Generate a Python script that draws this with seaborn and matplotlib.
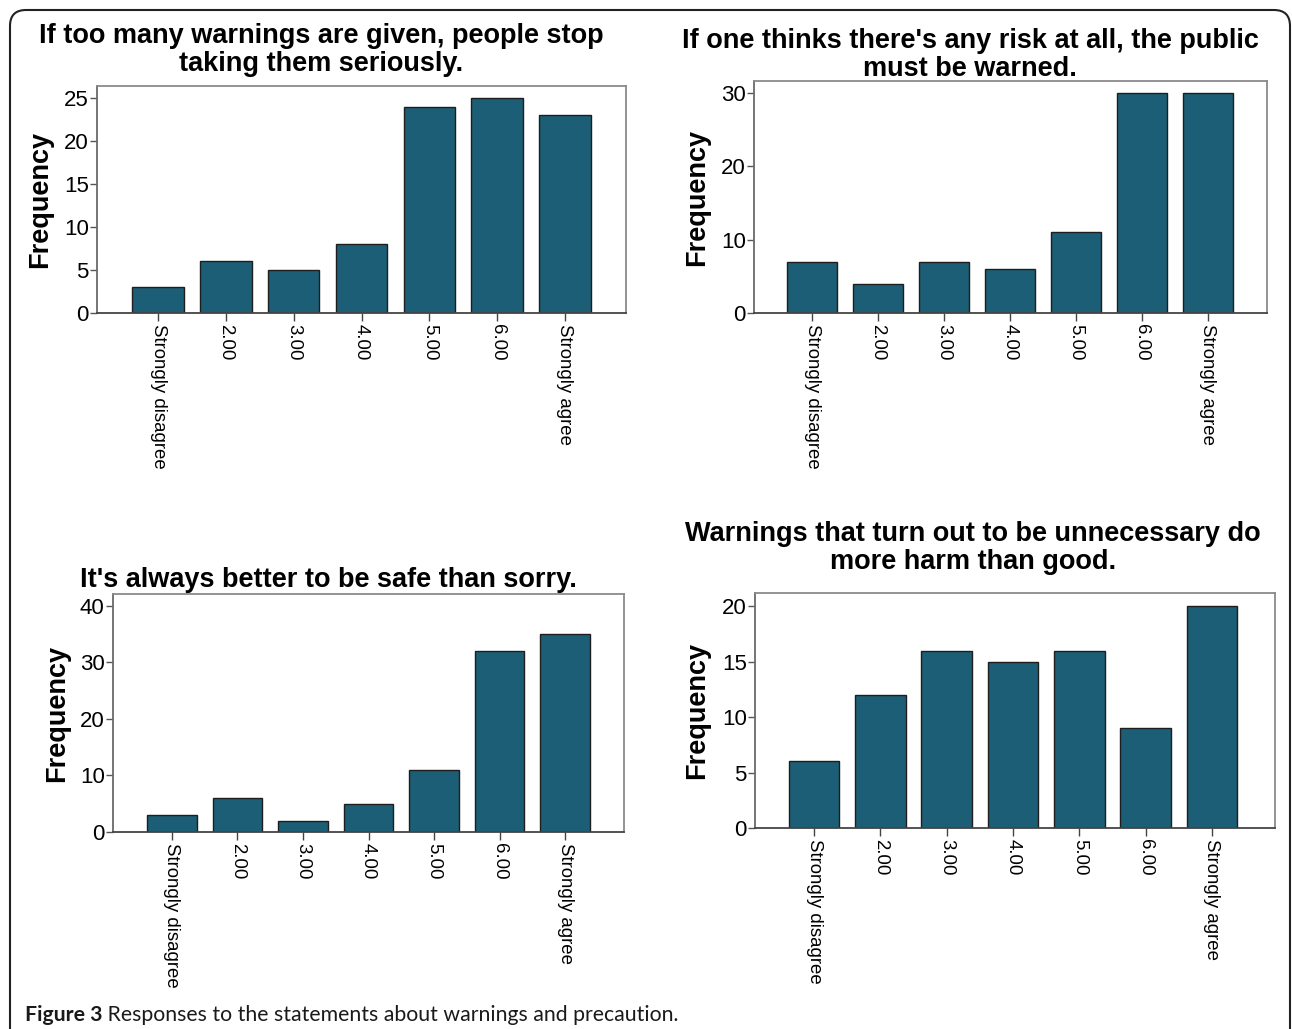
import numpy as np
import pandas as pd
import seaborn as sns
import matplotlib.pyplot as plt
from matplotlib.patches import FancyBboxPatch
from matplotlib.text import Annotation

# data
categories = ["Strongly disagree", "2.00", "3.00", "4.00", "5.00", "6.00", "Strongly agree"]
too_many_warnings = [3, 6, 5, 8, 24, 25, 23]
any_risk = [7, 4, 7, 6, 11, 30, 30]
better_safe = [3, 6, 2, 5, 11, 32, 35]
unnecessary_harm = [6, 12, 16, 15, 16, 9, 20]

titles = [
    "If too many warnings are given, people stop\ntaking them seriously.",
    "If one thinks there's any risk at all, the public\nmust be warned.",
    "It's always better to be safe than sorry.",
    "Warnings that turn out to be unnecessary do\nmore harm than good.",
]
yticks = [[0, 5, 10, 15, 20, 25], [0, 10, 20, 30], [0, 10, 20, 30, 40], [0, 5, 10, 15, 20]]
caption_bold = "Figure 3"
caption_text = " Responses to the statements about warnings and precaution."

BAR = "#1c5e75"
W, H = 1292, 1029

sns.set_style("white")
plt.rcParams["font.family"] = ["Liberation Sans", "DejaVu Sans"]
plt.rcParams["text.color"] = "black"
narrow = ["Liberation Sans Narrow", "Liberation Sans", "DejaVu Sans"]

fig = plt.figure(figsize=(W / 100, H / 100), dpi=100)


def px_axes(x0, y0, x1, y1):
    return fig.add_axes([x0 / W, 1 - y1 / H, (x1 - x0) / W, (y1 - y0) / H])


# (box in pixels, ylim top, xlim, title centre, ylabel centre)
panels = [
    (too_many_warnings, (97, 86, 626, 313), 26.4, (-0.9, 6.9), (321, 50), (40, 199)),
    (any_risk, (754, 81, 1267, 313), 31.6, (-0.88, 6.9), (970, 55), (697, 197)),
    (better_safe, (113, 594, 624, 832), 42.1, (-0.9, 6.9), (328, 580), (57, 713)),
    (unnecessary_harm, (755, 593, 1275, 828), 21.2, (-0.89, 6.95), (973, 548), (697, 710)),
]

for i, (vals, box, ytop, xl, tpos, lpos) in enumerate(panels):
    ax = px_axes(*box)
    sns.barplot(x=categories, y=vals, color=BAR, saturation=1, width=0.76,
                edgecolor="#1e1e1e", linewidth=1.0, ax=ax)
    ax.set_ylim(0, ytop)
    ax.set_xlim(*xl)
    ax.set_yticks(yticks[i])
    ax.set_xlabel("")
    ax.set_ylabel("")
    ax.tick_params(axis="y", direction="out", length=5, width=1, color="#555555",
                   labelcolor="black", labelsize=16, pad=1, left=True)
    ax.tick_params(axis="x", direction="out", length=6, width=1, color="#444444",
                   labelcolor="black", labelsize=13.4, labelrotation=270, pad=2, bottom=True)
    for lbl in ax.get_yticklabels():
        lbl.set_family(narrow)
    for side, c in [("top", "#8a8a8a"), ("right", "#8a8a8a"), ("left", "#6a6a6a"), ("bottom", "#444444")]:
        ax.spines[side].set_visible(True)
        ax.spines[side].set_color(c)
        ax.spines[side].set_linewidth(1.3)
    fig.text(tpos[0] / W, 1 - tpos[1] / H, titles[i], ha="center", va="center",
             fontsize=19.5, fontweight="bold", linespacing=1.08)
    fig.text(lpos[0] / W, 1 - lpos[1] / H, "Frequency", rotation=90, ha="center",
             va="center", fontsize=19.5, fontweight="bold")

# outer frame
frame = FancyBboxPatch((10, -60), 1280, H - 10 + 60, boxstyle="round,pad=0,rounding_size=16",
                       transform=None, fill=False, ec="#222222", lw=1.5)
fig.add_artist(frame)

t1 = fig.text(25 / W, 1 - 1015 / H, caption_bold, fontsize=15.3, fontweight="bold",
              va="center", family=["Lato", "DejaVu Sans"], color="#1a1a1a")
fig.add_artist(Annotation(caption_text, xy=(1, 0), xycoords=t1, va="bottom", ha="left",
                          fontsize=15.3, family=["Lato", "DejaVu Sans"], color="#1a1a1a"))

fig.savefig("out.png", dpi=100)
